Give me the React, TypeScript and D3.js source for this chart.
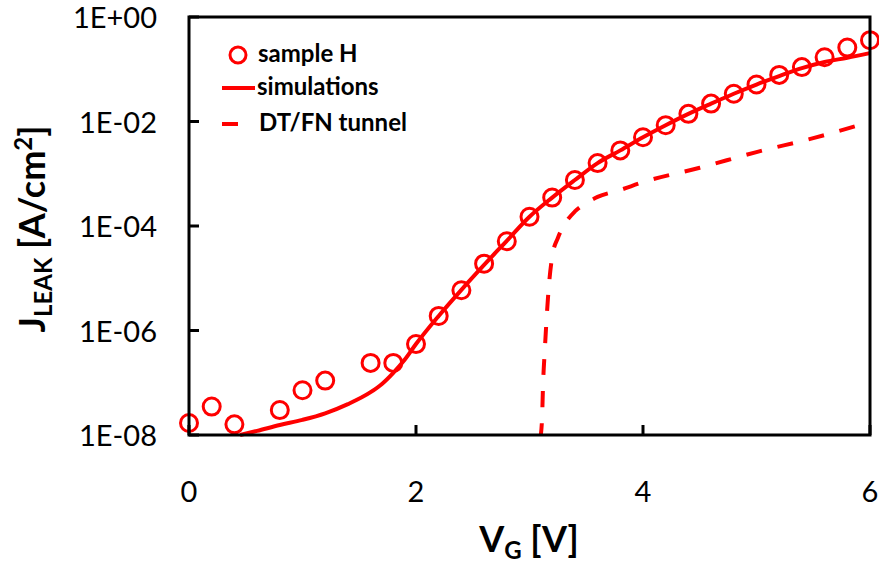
import React from "react";
import * as d3 from "d3";

// ---- data ----
const measV = [0, 0.2, 0.4, 0.8, 1.0, 1.2, 1.6, 1.8, 2.0, 2.2, 2.4, 2.6, 2.8, 3.0, 3.2, 3.4, 3.6, 3.8, 4.0, 4.2, 4.4, 4.6, 4.8, 5.0, 5.2, 5.4, 5.6, 5.8, 6.0];
const measJ = [1.7e-8, 3.5e-8, 1.6e-8, 3.0e-8, 7.2e-8, 1.1e-7, 2.4e-7, 2.4e-7, 5.5e-7, 1.9e-6, 5.9e-6, 1.9e-5, 5.1e-5, 1.5e-4, 3.5e-4, 7.6e-4, 1.6e-3, 2.8e-3, 5.0e-3, 8.5e-3, 1.4e-2, 2.2e-2, 3.4e-2, 5.1e-2, 7.8e-2, 0.11, 0.17, 0.26, 0.36];

const simV = [0.45, 0.6, 0.8, 1.0, 1.2, 1.4, 1.6, 1.7, 1.8, 1.9, 2.0, 2.2, 2.4, 2.6, 2.8, 3.0, 3.2, 3.4, 3.6, 3.8, 4.0, 4.2, 4.4, 4.6, 4.8, 5.0, 5.2, 5.4, 5.6, 5.8, 6.0];
const simJ = [1.0e-8, 1.2e-8, 1.55e-8, 1.95e-8, 2.6e-8, 3.9e-8, 6.6e-8, 9.5e-8, 1.55e-7, 2.75e-7, 5.5e-7, 1.9e-6, 6.0e-6, 1.8e-5, 5.2e-5, 1.5e-4, 3.5e-4, 7.6e-4, 1.6e-3, 2.8e-3, 5.0e-3, 8.5e-3, 1.4e-2, 2.2e-2, 3.4e-2, 5.1e-2, 7.4e-2, 0.105, 0.138, 0.166, 0.204];

const tunV = [3.10, 3.11, 3.12, 3.135, 3.15, 3.17, 3.20, 3.25, 3.30, 3.40, 3.50, 3.60, 3.80, 4.0, 4.5, 5.0, 5.5, 6.0];
const tunJ = [1.0e-8, 1.95e-8, 1.0e-7, 4.3e-7, 1.6e-6, 6.8e-6, 2.6e-5, 5.9e-5, 1.0e-4, 1.9e-4, 2.75e-4, 3.6e-4, 4.9e-4, 6.9e-4, 1.3e-3, 2.6e-3, 4.8e-3, 9.8e-3];

const yTickValues = [1, 1e-2, 1e-4, 1e-6, 1e-8];
const yTickLabels = ["1E+00", "1E-02", "1E-04", "1E-06", "1E-08"];
const xTickValues = [0, 2, 4, 6];
const xTickLabels = ["0", "2", "4", "6"];

const legendLabels = ["sample H", "simulations", "DT/FN tunnel"];

const RED = "#FF0000";
const FONT = "Lato, 'Open Sans', sans-serif";

export default function App() {
  const W = 879, H = 566;
  const left = 189, right = 870, top = 17, bottom = 435;
  const x = d3.scaleLinear().domain([0, 6]).range([left, right]);
  const y = d3.scaleLog().domain([1e-8, 1]).range([bottom, top]);

  const line = d3
    .line<[number, number]>()
    .x((d) => x(d[0]))
    .y((d) => y(d[1]))
    .curve(d3.curveMonotoneX);

  const simPath = line(simV.map((v, i) => [v, simJ[i]] as [number, number])) || "";
  const tunPath = line(tunV.map((v, i) => [v, tunJ[i]] as [number, number])) || "";

  return (
    <svg width={W} height={H} style={{ display: "block", position: "absolute", left: 0, top: 0 }} fontFamily={FONT}>
      <rect x={0} y={0} width={W} height={H} fill="#fff" />

      {/* data */}
      <path d={simPath} fill="none" stroke={RED} strokeWidth={4} />
      <path d={tunPath} fill="none" stroke={RED} strokeWidth={4} strokeDasharray="16,16" strokeDashoffset={4} />
      {measV.map((v, i) => (
        <circle key={i} cx={x(v)} cy={y(measJ[i])} r={8.5} fill="none" stroke={RED} strokeWidth={3} />
      ))}

      {/* frame */}
      <rect x={left} y={top} width={right - left} height={bottom - top} fill="none" stroke="#000" strokeWidth={3} />

      {/* y ticks */}
      {yTickValues.map((v, i) => (
        <g key={i}>
          <line x1={left} x2={left + 10} y1={y(v)} y2={y(v)} stroke="#000" strokeWidth={3} />
          <text x={157} y={y(v) + 11} textAnchor="end" fontSize={29} fill="#000">
            {yTickLabels[i]}
          </text>
        </g>
      ))}

      {/* x ticks */}
      {xTickValues.map((v, i) => (
        <g key={i}>
          <line x1={x(v)} x2={x(v)} y1={bottom} y2={bottom - 10} stroke="#000" strokeWidth={3} />
          <text x={x(v)} y={502} textAnchor="middle" fontSize={29} fill="#000">
            {xTickLabels[i]}
          </text>
        </g>
      ))}

      {/* axis titles */}
      <text x={529} y={552} textAnchor="middle" fontSize={36} fontWeight="bold" fill="#000">
        V<tspan fontSize={24} dy={7}>G</tspan>
        <tspan dy={-7}> [V]</tspan>
      </text>
      <text transform="translate(45,229) rotate(-90)" textAnchor="middle" fontSize={36} fontWeight="bold" fill="#000">
        J<tspan fontSize={24} dy={7}>LEAK</tspan>
        <tspan dy={-7}> [A/cm</tspan>
        <tspan fontSize={24} dy={-13}>2</tspan>
        <tspan dy={13}>]</tspan>
      </text>

      {/* legend */}
      <circle cx={238} cy={55} r={8} fill="none" stroke={RED} strokeWidth={3} />
      <text x={258} y={62} fontSize={24} fontWeight="bold" fill="#000">{legendLabels[0]}</text>
      <line x1={222} x2={255} y1={88} y2={88} stroke={RED} strokeWidth={4} />
      <text x={257} y={95} fontSize={24} fontWeight="bold" fill="#000">{legendLabels[1]}</text>
      <line x1={222} x2={238} y1={124} y2={124} stroke={RED} strokeWidth={4} />
      <text x={259} y={131} fontSize={24} fontWeight="bold" fill="#000">{legendLabels[2]}</text>
    </svg>
  );
}
